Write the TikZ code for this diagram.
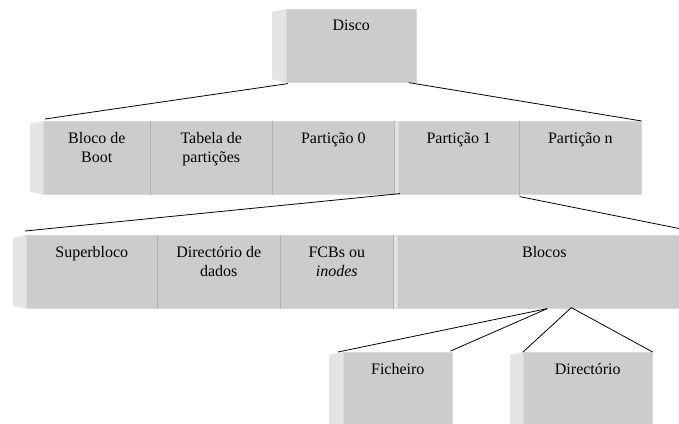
\documentclass[tikz,border=0pt]{standalone}
\usepackage{fontspec}
\setmainfont{Liberation Serif}
\definecolor{facegray}{HTML}{CCCCCC}
\definecolor{bevelgray}{HTML}{E4E4E4}
\definecolor{edgegray}{HTML}{DADADA}
\definecolor{sepdark}{HTML}{B0B0B0}
\tikzset{
  face/.style={rectangle, fill=facegray, draw=edgegray, line width=0.6pt, inner sep=0pt, anchor=north west},
  bevel/.style={fill=bevelgray},
  sepline/.style={draw=sepdark, line width=0.5pt},
  lbl/.style={font=\fontsize{16}{19}\selectfont, align=center, inner sep=0pt, anchor=north},
  link/.style={draw=black, line width=0.8pt},
}
\newcommand{\lblstrut}{\rule{0pt}{12pt}}
\begin{document}
\begin{tikzpicture}[x=1pt, y=-1pt]
\useasboundingbox (0,0) rectangle (679,423);
\clip (0,0) rectangle (679,423);

% ---- disk ----
\node[face, minimum width=130, minimum height=73] (disco) at (286,9) {};
\fill[bevel] ([shift={(-14,3)}]disco.north west) -- (disco.north west) -- (disco.south west) -- ([shift={(-14,-3)}]disco.south west) -- cycle;
\node[lbl] (discol) at ([yshift=-9.5pt]disco.north) {\lblstrut Disco};

% ---- disk layout ----
\node[face, minimum width=107, minimum height=73] (boot) at (43,121) {};
\node[face, minimum width=122, minimum height=73] (tabela) at (150,121) {};
\node[face, minimum width=122, minimum height=73] (part0) at (272,121) {};
\node[face, minimum width=121, minimum height=73] (part1) at (398,121) {};
\node[face, minimum width=122, minimum height=73] (partn) at (519,121) {};
\fill[bevel] ([shift={(-13,3)}]boot.north west) -- (boot.north west) -- (boot.south west) -- ([shift={(-13,-3)}]boot.south west) -- cycle;
\fill[bevel] (part0.north east) rectangle (part1.south west);
\draw[sepline] (tabela.north west) -- (tabela.south west);
\draw[sepline] (part0.north west) -- (part0.south west);
\draw[sepline] (part0.north east) -- (part0.south east);
\draw[sepline] (partn.north west) -- (partn.south west);
\node[lbl] (bootl)   at ([yshift=-10pt]boot.north)   {\lblstrut Bloco de\\Boot};
\node[lbl] (tabelal) at ([yshift=-10pt]tabela.north) {\lblstrut Tabela de\\partições};
\node[lbl] (part0l)  at ([yshift=-10pt]part0.north)  {\lblstrut Partição 0};
\node[lbl] (part1l)  at ([yshift=-10pt]part1.north)  {\lblstrut Partição 1};
\node[lbl] (partnl)  at ([yshift=-10pt]partn.north)  {\lblstrut Partição n};

% ---- partition layout ----
\node[face, minimum width=131, minimum height=73] (superb) at (26,235) {};
\node[face, minimum width=123, minimum height=73] (dirdados) at (157,235) {};
\node[face, minimum width=113, minimum height=73] (fcbs) at (280,235) {};
\node[face, minimum width=294, minimum height=73] (blocos) at (397,235) {};
\fill[bevel] ([shift={(-13,3)}]superb.north west) -- (superb.north west) -- (superb.south west) -- ([shift={(-13,-3)}]superb.south west) -- cycle;
\fill[bevel] (fcbs.north east) rectangle (blocos.south west);
\draw[sepline] (dirdados.north west) -- (dirdados.south west);
\draw[sepline] (fcbs.north west) -- (fcbs.south west);
\draw[sepline] (fcbs.north east) -- (fcbs.south east);
\node[lbl] (superbl)   at ([yshift=-10.5pt]superb.north)   {\lblstrut Superbloco};
\node[lbl] (dirdadosl) at ([yshift=-10.5pt]dirdados.north) {\lblstrut Directório de\\dados};
\node[lbl] (fcbsl)     at ([yshift=-10.5pt]fcbs.north)     {\lblstrut FCBs ou\\\textit{inodes}};
\node[lbl] (blocosl)   at ([yshift=-10.5pt]blocos.north)   {\lblstrut Blocos};

% ---- block contents ----
\node[face, minimum width=109, minimum height=80] (fich) at (343,352) {};
\node[face, minimum width=129, minimum height=80] (dirct) at (523,352) {};
\fill[bevel] ([shift={(-14,3)}]fich.north west) -- (fich.north west) -- (fich.south west) -- ([shift={(-14,-3)}]fich.south west) -- cycle;
\fill[bevel] ([shift={(-13,3)}]dirct.north west) -- (dirct.north west) -- (dirct.south west) -- ([shift={(-13,-3)}]dirct.south west) -- cycle;
\node[lbl] (fichl)  at ([yshift=-10.5pt]fich.north)  {\lblstrut Ficheiro};
\node[lbl] (dirctl) at ([yshift=-10.5pt]dirct.north) {\lblstrut Directório};

% ---- connectors ----
\draw[link] ([shift={(2,1)}]disco.south west) -- ([shift={(2,-2)}]boot.north west);
\draw[link] ([shift={(-8,0)}]disco.south east) -- (partn.north east);
\draw[link] ([shift={(2,-1)}]part1.south west) -- ([shift={(-1,-4)}]superb.north west);
\draw[link] ([shift={(0,2)}]part1.south east) -- ([shift={(0,-4)}]blocos.north east);
\coordinate (apexf) at ([xshift=3]blocos.south);
\coordinate (apexd) at ([shift={(27,-1)}]blocos.south);
\draw[link] (apexf) -- ([xshift=-5]fich.north west);
\draw[link] (apexf) -- ([shift={(-2,-1)}]fich.north east);
\draw[link] (apexd) -- (dirct.north west);
\draw[link] (apexd) -- (dirct.north east);
\end{tikzpicture}
\end{document}
